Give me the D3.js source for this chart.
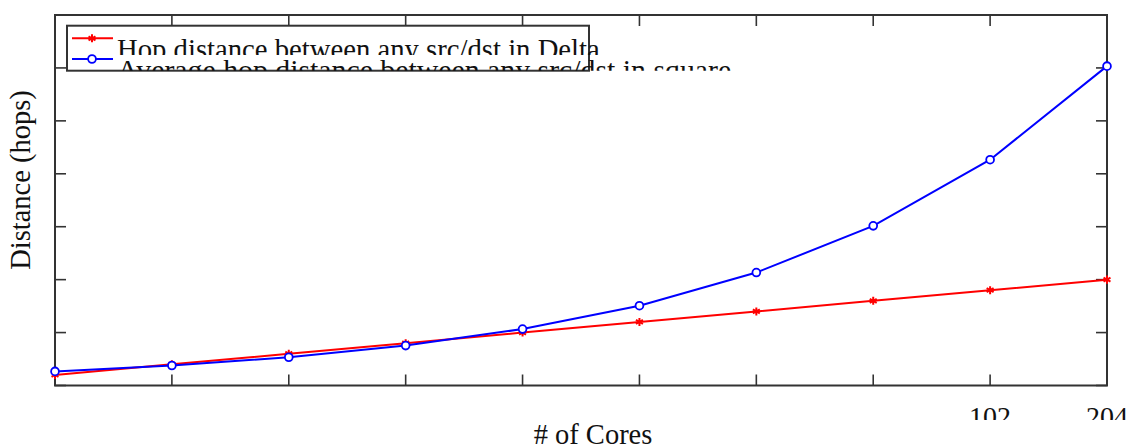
<!DOCTYPE html>
<html><head><meta charset="utf-8">
<script src="https://cdn.jsdelivr.net/npm/d3@7"></script>
<style>html,body{margin:0;padding:0;background:#fff;overflow:hidden}</style>
</head><body>
<svg id="c" width="1135" height="448"></svg>
<script>
const cores = [4, 8, 16, 32, 64, 128, 256, 512, 1024, 2048];
const deltaHops = [1, 2, 3, 4, 5, 6, 7, 8, 9, 10];
const squareHops = [1.33, 1.89, 2.67, 3.77, 5.33, 7.54, 10.67, 15.08, 21.33, 30.17];
const yTicks = [0, 5, 10, 15, 20, 25, 30, 35];
const xTickLabels = {1024: "102", 2048: "204"};
const seriesNames = ["Hop distance between any src/dst in Delta", "Average hop distance between any src/dst in square"];
const xTitle = "# of Cores";
const yTitle = "Distance (hops)";

const svg = d3.select("#c");
const L = 55, R = 1107, T = 15, B = 385.5;
const x = d3.scaleLog().base(2).domain([4, 2048]).range([L, R]);
const y = d3.scaleLinear().domain([0, 35]).range([B, T]);
const axisColor = "#333";
const font = "'Liberation Serif', 'Times New Roman', serif";
const tickLen = 11;

const defs = svg.append("defs");
function clip(id, x0, y0, w, h) {
  defs.append("clipPath").attr("id", id).append("rect").attr("x", x0).attr("y", y0).attr("width", w).attr("height", h);
}
clip("tickclip", 0, 390, 1135, 30);
clip("leg1", 0, 0, 1135, 55);
clip("leg2", 0, 55, 1135, 15.7);

// ticks
const g = svg.append("g").attr("stroke", axisColor).attr("stroke-width", 1.6);
cores.forEach(c => {
  g.append("line").attr("x1", x(c)).attr("x2", x(c)).attr("y1", B).attr("y2", B - tickLen);
  g.append("line").attr("x1", x(c)).attr("x2", x(c)).attr("y1", T).attr("y2", T + tickLen);
});
yTicks.forEach(v => {
  g.append("line").attr("x1", L).attr("x2", L + tickLen).attr("y1", y(v)).attr("y2", y(v));
  g.append("line").attr("x1", R).attr("x2", R - tickLen).attr("y1", y(v)).attr("y2", y(v));
});
g.append("rect").attr("x", L).attr("y", T).attr("width", R - L).attr("height", B - T).attr("fill", "none").attr("stroke-width", 2);

// tick labels
const tl = svg.append("g").attr("clip-path", "url(#tickclip)");
cores.filter(c => xTickLabels[c]).forEach(c => {
  tl.append("text").attr("x", x(c)).attr("y", 425.5).attr("text-anchor", "middle")
    .attr("font-family", font).attr("font-size", 28).attr("fill", "#111").text(xTickLabels[c]);
});

// axis titles
svg.append("text").attr("x", 593).attr("y", 443.5).attr("text-anchor", "middle")
  .attr("font-family", font).attr("font-size", 28.5).attr("fill", "#111").text(xTitle);
svg.append("text").attr("transform", "translate(30,180) rotate(-90)").attr("text-anchor", "middle")
  .attr("font-family", font).attr("font-size", 28.5).attr("fill", "#111").text(yTitle);

// series
const line = d3.line();
const redPts = cores.map((c, i) => [x(c), y(deltaHops[i])]);
const bluePts = cores.map((c, i) => [x(c), y(squareHops[i])]);
svg.append("path").attr("d", line(redPts)).attr("fill", "none").attr("stroke", "#ff0000").attr("stroke-width", 2);
const ast = d3.symbol().type(d3.symbolAsterisk).size(45);
svg.append("g").selectAll("path").data(redPts).join("path")
  .attr("transform", d => `translate(${d[0]},${d[1]})`).attr("d", ast())
  .attr("fill", "none").attr("stroke", "#ff0000").attr("stroke-width", 2);
svg.append("path").attr("d", line(bluePts)).attr("fill", "none").attr("stroke", "#0000ff").attr("stroke-width", 2);
svg.append("g").selectAll("circle").data(bluePts).join("circle")
  .attr("cx", d => d[0]).attr("cy", d => d[1]).attr("r", 3.9)
  .attr("fill", "#fff").attr("stroke", "#0000ff").attr("stroke-width", 1.8);

// legend
const lg = svg.append("g");
lg.append("rect").attr("x", 67).attr("y", 25.7).attr("width", 522).attr("height", 45)
  .attr("fill", "#fff").attr("stroke", axisColor).attr("stroke-width", 2);
lg.append("line").attr("x1", 72).attr("x2", 113).attr("y1", 38.3).attr("y2", 38.3).attr("stroke", "#ff0000").attr("stroke-width", 2);
lg.append("path").attr("transform", "translate(92,38.3)").attr("d", ast()).attr("fill", "none").attr("stroke", "#ff0000").attr("stroke-width", 2);
lg.append("line").attr("x1", 72).attr("x2", 113).attr("y1", 59).attr("y2", 59).attr("stroke", "#0000ff").attr("stroke-width", 2);
lg.append("circle").attr("cx", 92).attr("cy", 59).attr("r", 3.9).attr("fill", "#fff").attr("stroke", "#0000ff").attr("stroke-width", 1.8);
lg.append("text").attr("clip-path", "url(#leg1)").attr("x", 117).attr("y", 59).attr("font-family", font)
  .attr("font-size", 28.7).attr("fill", "#111").text(seriesNames[0]);
lg.append("text").attr("clip-path", "url(#leg2)").attr("x", 117).attr("y", 79.5).attr("font-family", font)
  .attr("font-size", 29.8).attr("fill", "#111").text(seriesNames[1]);
</script>
</body></html>
